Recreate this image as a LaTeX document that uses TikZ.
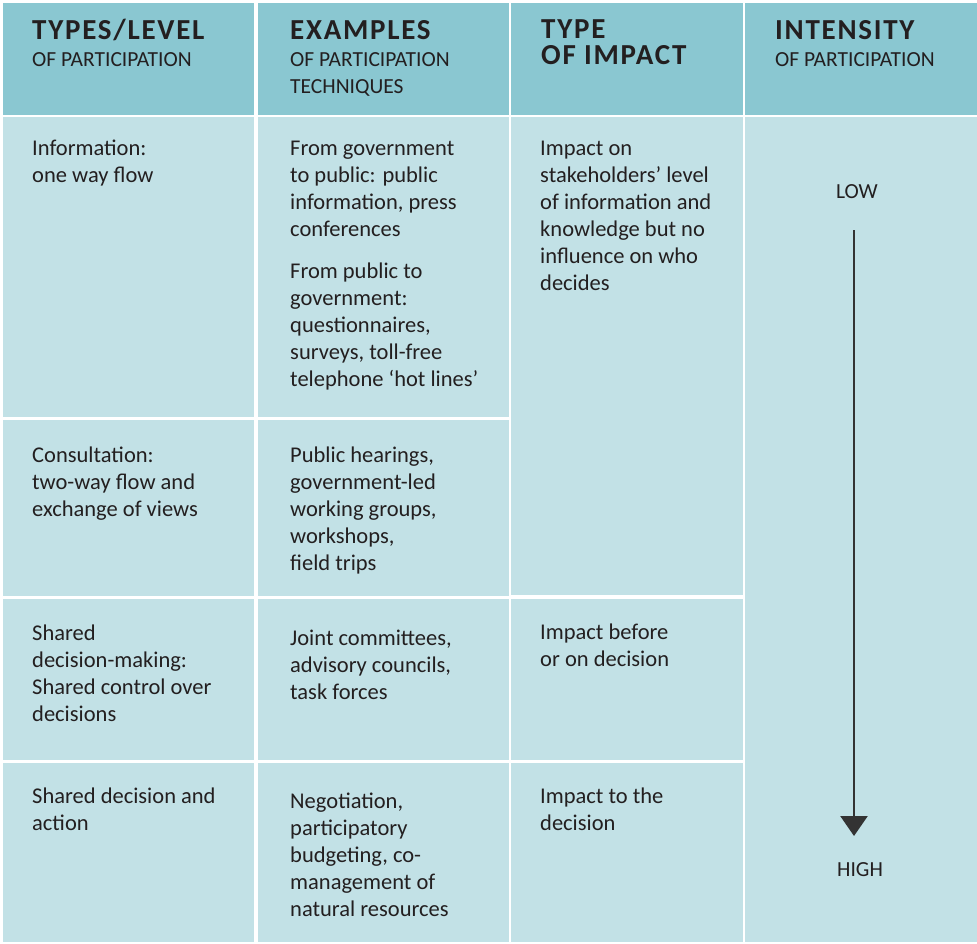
\documentclass[tikz,border=0pt]{standalone}
\usepackage{fontspec}
\setmainfont{Carlito}
\newfontfamily\titlefont[LetterSpace=6]{Carlito}
\usetikzlibrary{arrows.meta}
\definecolor{headc}{HTML}{8AC7D1}
\definecolor{bodyc}{HTML}{C2E1E6}
\definecolor{txt}{HTML}{231F20}
\definecolor{arrc}{HTML}{333333}
\tikzset{
  title/.style={anchor=base west, inner sep=0pt, text=txt, align=left,
    font=\titlefont\bfseries\fontsize{29}{26}\selectfont},
  subtitle/.style={anchor=base west, inner sep=0pt, text=txt, align=left,
    font=\fontsize{21.5}{27}\selectfont},
  celltext/.style={anchor=base west, inner sep=0pt, text=txt, align=left,
    font=\fontsize{22.5}{27}\selectfont},
  scaletext/.style={anchor=base, inner sep=0pt, text=txt,
    font=\fontsize{21.5}{27}\selectfont},
  headcell/.style={fill=headc},
  bodycell/.style={fill=bodyc},
  intensity/.style={draw=arrc, line width=2.5pt, -{Triangle[width=27pt,length=20pt]}}
}
\begin{document}
\begin{tikzpicture}[x=1pt,y=-1pt]
\fill[white] (0,0) rectangle (977,943);
\useasboundingbox (0,0) rectangle (977,943);
% header cells
\fill[headcell] (3,3) rectangle (254,115);
\fill[headcell] (258,3) rectangle (509,115);
\fill[headcell] (511,3) rectangle (743,115);
\fill[headcell] (745,3) rectangle (977,115);
% column 1
\fill[bodycell] (3,117) rectangle (254,417);
\fill[bodycell] (3,420) rectangle (254,596);
\fill[bodycell] (3,599) rectangle (254,760);
\fill[bodycell] (3,763) rectangle (254,942);
% column 2
\fill[bodycell] (258,117) rectangle (509,417);
\fill[bodycell] (258,420) rectangle (509,596);
\fill[bodycell] (258,599) rectangle (509,760);
\fill[bodycell] (258,763) rectangle (509,942);
% column 3
\fill[bodycell] (511,117) rectangle (743,595);
\fill[bodycell] (511,599) rectangle (743,760);
\fill[bodycell] (511,763) rectangle (743,942);
% column 4
\fill[bodycell] (745,117) rectangle (977,942);

% headers (base anchor = baseline of the last line)
\node[title] (t1) at (32,39) {TYPES/LEVEL};
\node[subtitle] (s1) at (32,66) {OF PARTICIPATION};
\node[title] (t2) at (290,39) {EXAMPLES};
\node[subtitle] (s2) at (290,93) {OF PARTICIPATION\\TECHNIQUES};
\node[title] (t3) at (541,64.5) {TYPE\\OF IMPACT};
\node[title] (t4) at (775,39) {INTENSITY};
\node[subtitle] (s4) at (775,66) {OF PARTICIPATION};

% column 1 texts
\node[celltext] (a1) at (32,182) {Information:\\one way flow};
\node[celltext] (a2) at (32,516) {Consultation:\\two-way flow and\\exchange of views};
\node[celltext] (a3) at (32,721) {Shared\\decision-making:\\Shared control over\\decisions};
\node[celltext] (a4) at (32,830) {Shared decision and\\action};

% column 2 texts
\node[celltext] (b1) at (290,236) {From government\\to public: public\\information, press\\conferences};
\node[celltext] (b1b) at (290,386) {From public to\\government:\\questionnaires,\\surveys, toll-free\\telephone ‘hot lines’};
\node[celltext] (b2) at (290,570) {Public hearings,\\government-led\\working groups,\\workshops,\\field trips};
\node[celltext] (b3) at (290,699) {Joint committees,\\advisory councils,\\task forces};
\node[celltext] (b4) at (290,916) {Negotiation,\\participatory\\budgeting, co-\\management of\\natural resources};

% column 3 texts
\node[celltext] (c1) at (540,290) {Impact on\\stakeholders’ level\\of information and\\knowledge but no\\influence on who\\decides};
\node[celltext] (c3) at (540,666) {Impact before\\or on decision};
\node[celltext] (c4) at (540,830) {Impact to the\\decision};

% column 4
\node[scaletext] (low) at (857,198) {LOW};
\node[scaletext] (high) at (860,876) {HIGH};
\coordinate (astart) at (854,230);
\coordinate (aend) at (854,836);
\draw[intensity] (astart) -- (aend);
\end{tikzpicture}
\end{document}
